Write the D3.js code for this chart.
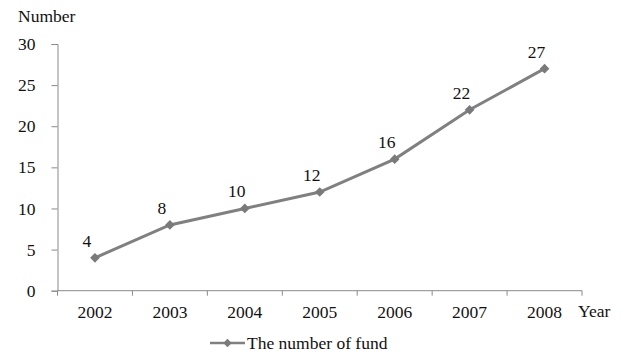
<!DOCTYPE html>
<html>
<head>
<meta charset="utf-8">
<script src="https://cdn.jsdelivr.net/npm/d3@7/dist/d3.min.js"></script>
<style>
  html, body { margin: 0; padding: 0; background: #fff; }
  svg { display: block; }
  svg text { font-family: "Times New Roman", "Liberation Serif", "DejaVu Serif", serif !important; fill: #111; }
</style>
</head>
<body>
<svg id="chart" width="628" height="354"></svg>
<script>
// Number of funds per year
const years = ["2002", "2003", "2004", "2005", "2006", "2007", "2008"];
const fundCounts = [4, 8, 10, 12, 16, 22, 27];
const yTicks = [0, 5, 10, 15, 20, 25, 30];
const seriesName = "The number of fund";

const svg = d3.select("#chart");
const plotLeft = 57.5, plotRight = 582, plotTop = 44, plotBottom = 290.7;
const lineColor = "#808080";
const axisColor = "#8a8a8a";
const fontSize = 17.5;

const x = d3.scaleBand().domain(years).range([plotLeft, plotRight]);
const y = d3.scaleLinear().domain([0, 30]).range([plotBottom, plotTop]);

// Y axis
const yAxis = svg.append("g").attr("transform", `translate(${plotLeft},0)`)
  .attr("font-family", null)
  .call(d3.axisLeft(y).tickValues(yTicks).tickSize(6).tickPadding(7));
yAxis.attr("font-family", null);
yAxis.select(".domain").attr("stroke", axisColor);
yAxis.selectAll(".tick line").attr("stroke", axisColor);
yAxis.selectAll(".tick text").style("font-size", fontSize + "px")
  .attr("fill", "#111").attr("x", -22);

// X axis with ticks on the category boundaries
const xAxis = svg.append("g").attr("transform", `translate(0,${plotBottom})`)
  .call(d3.axisBottom(x).tickSize(0).tickPadding(15));
xAxis.attr("font-family", null);
xAxis.select(".domain").attr("stroke", axisColor).attr("d", `M${plotLeft},0H${plotRight}`);
xAxis.selectAll(".tick text").style("font-size", fontSize + "px").attr("fill", "#111");
const bounds = years.map(d => x(d)).concat([plotRight]);
xAxis.selectAll("line.bound").data(bounds).enter().append("line")
  .attr("class", "bound")
  .attr("x1", d => d).attr("x2", d => d)
  .attr("y1", 0).attr("y2", 5)
  .attr("stroke", axisColor);

// Axis titles
svg.append("text").attr("x", 18).attr("y", 22)
  .style("font-size", fontSize + "px").text("Number");
svg.append("text").attr("x", 578).attr("y", 317)
  .style("font-size", fontSize + "px").text("Year");

// Series line
const pts = years.map((d, i) => [x(d) + x.bandwidth() / 2, y(fundCounts[i])]);
svg.append("path")
  .attr("d", d3.line()(pts))
  .attr("fill", "none")
  .attr("stroke", lineColor)
  .attr("stroke-width", 3);

// Diamond markers
const diamond = d3.symbol().type(d3.symbolDiamond2).size(60);
svg.selectAll("path.marker").data(pts).enter().append("path")
  .attr("class", "marker")
  .attr("d", diamond)
  .attr("transform", d => `translate(${d[0]},${d[1]})`)
  .attr("fill", "#7a7a7a");

// Value labels
svg.selectAll("text.val").data(fundCounts).enter().append("text")
  .attr("class", "val")
  .attr("x", (d, i) => pts[i][0] - 8)
  .attr("y", (d, i) => pts[i][1] - 11)
  .attr("text-anchor", "middle")
  .style("font-size", fontSize + "px")
  .text(d => d);

// Legend
const lg = svg.append("g").attr("transform", "translate(210,343)");
lg.append("line").attr("x1", 0).attr("x2", 35).attr("y1", 0).attr("y2", 0)
  .attr("stroke", lineColor).attr("stroke-width", 2.5);
lg.append("path").attr("d", d3.symbol().type(d3.symbolDiamond2).size(45))
  .attr("transform", "translate(17.5,0)").attr("fill", "#7a7a7a");
lg.append("text").attr("x", 37).attr("y", 6)
  .style("font-size", fontSize + "px").text(seriesName);
</script>
</body>
</html>
